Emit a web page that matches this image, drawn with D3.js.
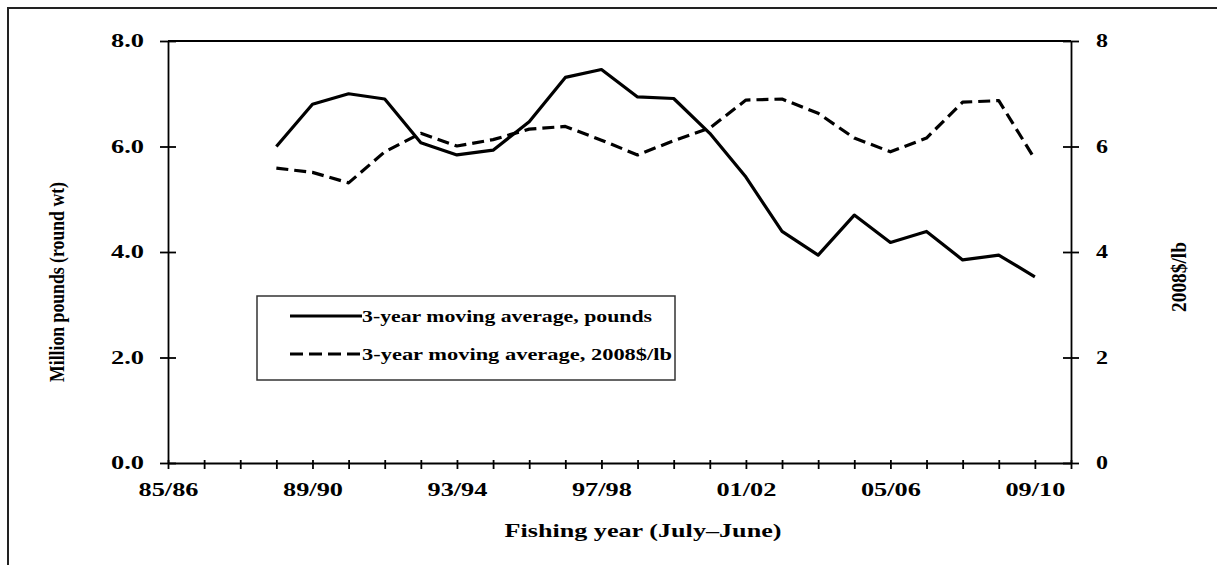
<!DOCTYPE html>
<html>
<head>
<meta charset="utf-8">
<script src="https://cdn.jsdelivr.net/npm/d3@7"></script>
<style>
  body { margin: 0; background: #fff; }
  svg { display: block; }
  text { font-family: 'Liberation Serif', 'Times New Roman', serif; font-weight: bold; fill: #000; }
  .axis .domain, .axis line { stroke: #000; stroke-width: 1.8; }
</style>
</head>
<body>
<svg id="chart"></svg>
<script>
// fishing years (July-June), one tick per season
const seasons = ['85/86', '86/87', '87/88', '88/89', '89/90', '90/91', '91/92', '92/93', '93/94',
  '94/95', '95/96', '96/97', '97/98', '98/99', '99/00', '00/01', '01/02', '02/03', '03/04',
  '04/05', '05/06', '06/07', '07/08', '08/09', '09/10', '10/11'];
const labelledSeasons = ['85/86', '89/90', '93/94', '97/98', '01/02', '05/06', '09/10'];

// 3-year moving average, million pounds (left axis)
const pounds = [null, null, null, 6.0, 6.8, 7.0, 6.9, 6.07, 5.84, 5.93, 6.47, 7.31, 7.46, 6.94,
  6.91, 6.25, 5.42, 4.39, 3.94, 4.7, 4.18, 4.39, 3.85, 3.94, 3.53, null];
// 3-year moving average, 2008$/lb (right axis)
const price = [null, null, null, 5.59, 5.51, 5.31, 5.9, 6.25, 6.01, 6.13, 6.33, 6.38, 6.12, 5.84,
  6.11, 6.35, 6.88, 6.9, 6.63, 6.16, 5.9, 6.16, 6.84, 6.87, 5.76, null];

const leftTicks = [0, 2, 4, 6, 8];
const rightTicks = [0, 2, 4, 6, 8];

const config = {
  width: 1217,
  height: 565,
  margin: { top: 41, right: 146, bottom: 102, left: 168 },
};

const svg = d3.select('#chart')
  .attr('width', config.width)
  .attr('height', config.height);

const innerW = config.width - config.margin.left - config.margin.right;
const innerH = config.height - config.margin.top - config.margin.bottom;

const x = d3.scalePoint()
  .domain(seasons)
  .range([0, innerW]);

const yLeft = d3.scaleLinear().domain([0, 8]).range([innerH, 0]);
const yRight = d3.scaleLinear().domain([0, 8]).range([innerH, 0]);

// outer frame
svg.append('rect')
  .attr('x', 8).attr('y', 8)
  .attr('width', 1220).attr('height', 580)
  .attr('fill', 'none')
  .attr('stroke', '#222')
  .attr('stroke-width', 2);

const chart = svg.append('g')
  .attr('transform', `translate(${config.margin.left},${config.margin.top})`);

// plot area border (top line)
chart.append('line')
  .attr('x1', 0).attr('x2', innerW)
  .attr('y1', 0).attr('y2', 0)
  .attr('stroke', '#000')
  .attr('stroke-width', 1.8);

// x axis
const xAxisG = chart.append('g')
  .attr('class', 'axis x-axis')
  .attr('transform', `translate(0,${innerH})`)
  .call(d3.axisBottom(x)
    .tickSizeInner(6)
    .tickSizeOuter(0)
    .tickFormat((d) => (labelledSeasons.includes(d) ? d : '')));
xAxisG.selectAll('.tick line').attr('y1', -3);
xAxisG.selectAll('.tick text')
  .attr('y', 20)
  .attr('dy', '0.71em')
  .style('font-size', '18px')
  .filter((d) => labelledSeasons.includes(d))
  .attr('textLength', 60)
  .attr('lengthAdjust', 'spacingAndGlyphs');

// left axis
const yLeftG = chart.append('g')
  .attr('class', 'axis y-axis')
  .call(d3.axisLeft(yLeft)
    .tickValues(leftTicks)
    .tickSizeInner(8)
    .tickSizeOuter(0)
    .tickFormat(d3.format('.1f')));
yLeftG.selectAll('.tick line').attr('x1', 8);
yLeftG.selectAll('.tick text')
  .attr('x', -24)
  .style('font-size', '18px')
  .attr('textLength', 33)
  .attr('lengthAdjust', 'spacingAndGlyphs');

// right axis
const yRightG = chart.append('g')
  .attr('class', 'axis y-axis-right')
  .attr('transform', `translate(${innerW},0)`)
  .call(d3.axisRight(yRight)
    .tickValues(rightTicks)
    .tickSizeInner(8)
    .tickSizeOuter(0)
    .tickFormat(d3.format('d')));
yRightG.selectAll('.tick line').attr('x1', -8);
yRightG.selectAll('.tick text')
  .attr('x', 25)
  .style('font-size', '18px')
  .attr('textLength', 12)
  .attr('lengthAdjust', 'spacingAndGlyphs');

// lines
const poundsLine = d3.line()
  .defined((d) => d != null)
  .x((d, i) => x(seasons[i]))
  .y((d) => yLeft(d));

const priceLine = d3.line()
  .defined((d) => d != null)
  .x((d, i) => x(seasons[i]))
  .y((d) => yRight(d));

chart.append('path')
  .datum(price)
  .attr('d', priceLine)
  .attr('fill', 'none')
  .attr('stroke', '#000')
  .attr('stroke-width', 3.2)
  .attr('stroke-dasharray', '12,6')
  .attr('stroke-linejoin', 'round');

chart.append('path')
  .datum(pounds)
  .attr('d', poundsLine)
  .attr('fill', 'none')
  .attr('stroke', '#000')
  .attr('stroke-width', 3.2)
  .attr('stroke-linejoin', 'round');

// axis titles
svg.append('text')
  .attr('x', 643)
  .attr('y', 537)
  .attr('text-anchor', 'middle')
  .attr('textLength', 277)
  .attr('lengthAdjust', 'spacingAndGlyphs')
  .style('font-size', '19px')
  .text('Fishing year (July–June)');

svg.append('text')
  .attr('transform', 'translate(64,282) rotate(-90)')
  .attr('text-anchor', 'middle')
  .attr('textLength', 200)
  .attr('lengthAdjust', 'spacingAndGlyphs')
  .style('font-size', '21px')
  .text('Million pounds (round wt)');

svg.append('text')
  .attr('transform', 'translate(1186,277) rotate(-90)')
  .attr('text-anchor', 'middle')
  .attr('textLength', 70)
  .attr('lengthAdjust', 'spacingAndGlyphs')
  .style('font-size', '21px')
  .text('2008$/lb');

// legend
const legendItems = [
  { label: '3-year moving average, pounds', dash: null, width: 290 },
  { label: '3-year moving average, 2008$/lb', dash: '13,6', width: 310 },
];

const legend = svg.append('g').attr('class', 'legend');
legend.append('rect')
  .attr('x', 257).attr('y', 296)
  .attr('width', 418).attr('height', 84)
  .attr('fill', '#fff')
  .attr('stroke', '#333')
  .attr('stroke-width', 1.5);

const rows = legend.selectAll('g.row')
  .data(legendItems)
  .join('g')
  .attr('class', 'row')
  .attr('transform', (d, i) => `translate(290,${316 + i * 38})`);

rows.append('line')
  .attr('x1', 0).attr('x2', 72)
  .attr('stroke', '#000')
  .attr('stroke-width', 3.2)
  .attr('stroke-dasharray', (d) => d.dash);

rows.append('text')
  .attr('x', 72)
  .attr('dy', '0.35em')
  .attr('textLength', (d) => d.width)
  .attr('lengthAdjust', 'spacingAndGlyphs')
  .style('font-size', '17px')
  .text((d) => d.label);
</script>
</body>
</html>
